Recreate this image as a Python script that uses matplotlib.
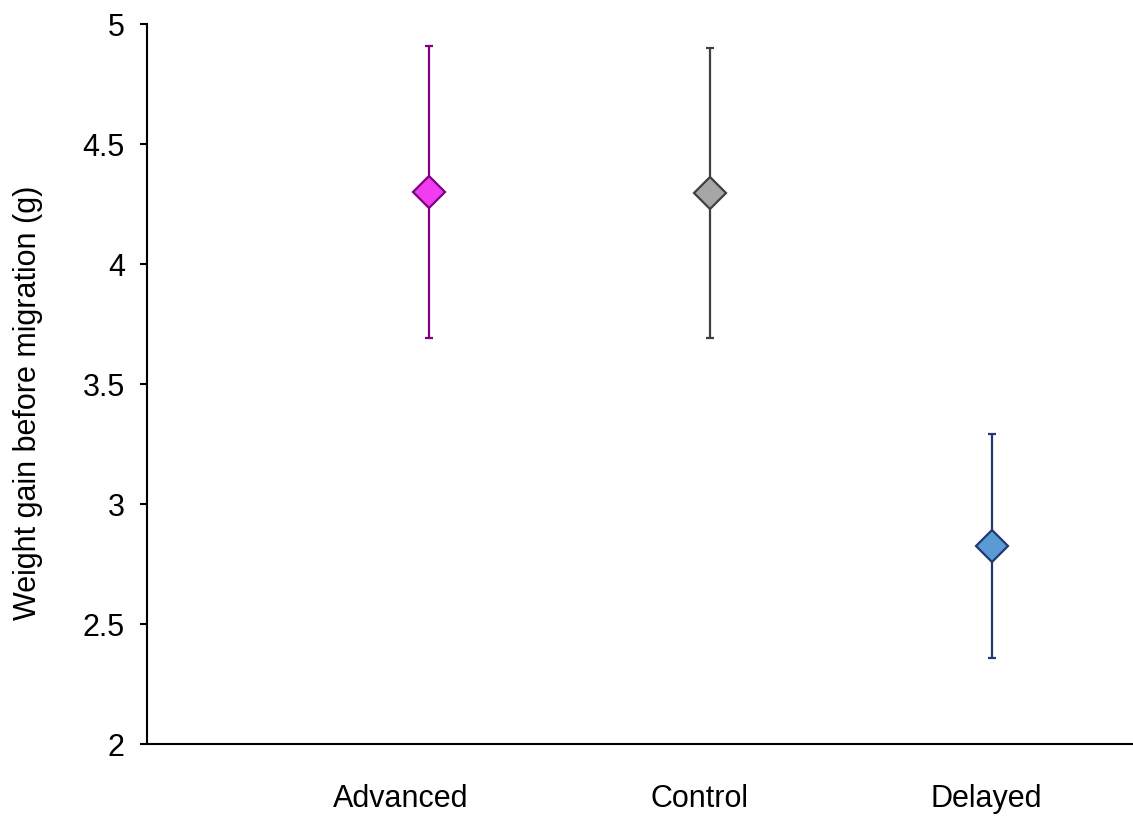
import matplotlib.pyplot as plt

# data
groups = ["Advanced", "Control", "Delayed"]
means = [4.30, 4.295, 2.825]
upper = [4.91, 4.90, 3.29]
lower = [3.69, 3.69, 2.36]
fills = ["#F23CF2", "#A6A6A6", "#5B9BD5"]
edges = ["#800080", "#404040", "#1F3A6B"]

# category labels sit slightly left of the markers in the original
label_pos = [0.90, 1.96, 2.98]

plt.rcParams["font.family"] = ["Liberation Sans", "DejaVu Sans"]

fig = plt.figure(figsize=(11.33, 8.18), dpi=100)
ax = fig.add_axes([147 / 1133, 1 - 744 / 818, 1 - 147 / 1133, (744 - 24) / 818])

for i, g in enumerate(groups):
    x = i + 1
    ax.errorbar(
        x, means[i],
        yerr=[[means[i] - lower[i]], [upper[i] - means[i]]],
        fmt="none", ecolor=edges[i], elinewidth=1.6,
        capsize=3, capthick=1.6, zorder=2
    )
    ax.plot(
        x, means[i], marker="D", markersize=16,
        markerfacecolor=fills[i], markeredgecolor=edges[i],
        markeredgewidth=1.6, linestyle="none", zorder=3
    )

ax.set_xlim(0, 3.5)
ax.set_ylim(2, 5)
ax.set_xticks(label_pos)
ax.set_xticklabels(groups)
ax.set_yticks([2, 2.5, 3, 3.5, 4, 4.5, 5])
ax.set_yticklabels(["2", "2.5", "3", "3.5", "4", "4.5", "5"])

ax.tick_params(axis="x", length=0, pad=29, labelsize=22)
ax.tick_params(axis="y", length=5, width=1.5, pad=11, labelsize=22, direction="out")

ax.spines["top"].set_visible(False)
ax.spines["right"].set_visible(False)
ax.spines["left"].set_linewidth(1.5)
ax.spines["bottom"].set_linewidth(1.5)

ax.set_ylabel("Weight gain before migration (g)", fontsize=22)
ax.yaxis.set_label_coords(-0.105, 0.474)

fig.savefig("out.png", dpi=100)
